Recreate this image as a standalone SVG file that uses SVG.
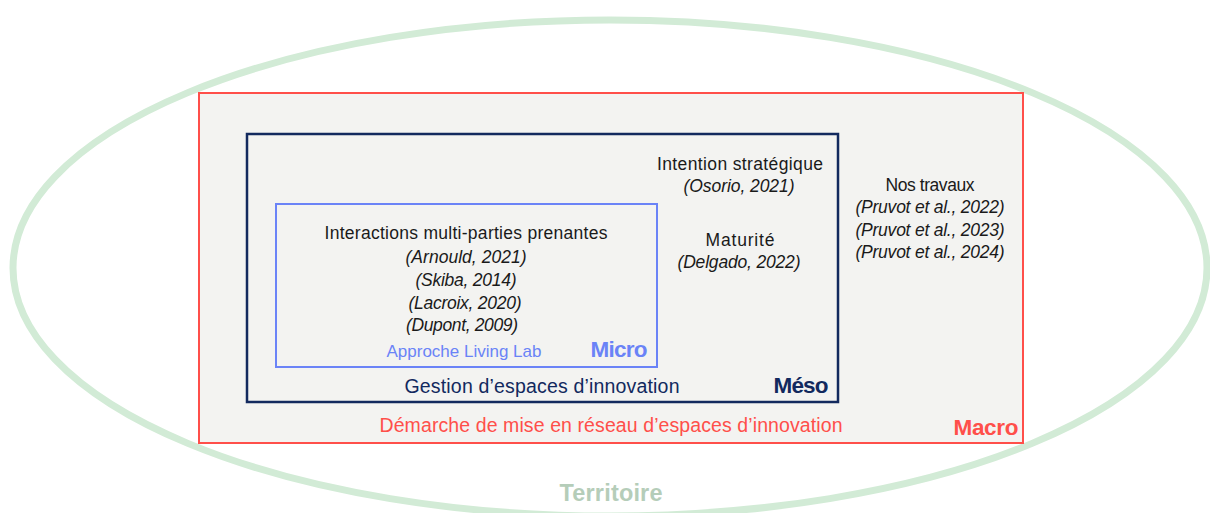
<svg xmlns="http://www.w3.org/2000/svg" width="1210" height="513" viewBox="0 0 1210 513">
<style>
text{font-family:"Liberation Sans",Arial,sans-serif;text-anchor:middle}
.t{font-size:17.5px;fill:#1a1a1a}
.i{font-style:italic}
.lbl{font-weight:bold;font-size:22.5px}
</style>
<rect width="1210" height="513" fill="#ffffff"/>
<g id="territoire">
<ellipse cx="610" cy="268" rx="597" ry="248" fill="none" stroke="#d2ebd6" stroke-width="7"/>
<text x="611" y="501" textLength="103" style="font-weight:bold;font-size:23.5px;fill:#b5cdb9">Territoire</text>
</g>
<g id="macro">
<rect x="199" y="93" width="824" height="350" fill="#f3f3f1" stroke="#ff4f4a" stroke-width="2"/>
<text x="611" y="432" textLength="463" style="font-size:19.5px;fill:#ff4f4a">Démarche de mise en réseau d’espaces d’innovation</text>
<text x="986" y="435" textLength="65" class="lbl" style="fill:#ff4f4a">Macro</text>
<text x="930" y="191" textLength="89" class="t">Nos travaux</text>
<text x="930" y="213" textLength="149" class="t i">(Pruvot et al., 2022)</text>
<text x="930" y="236" textLength="149" class="t i">(Pruvot et al., 2023)</text>
<text x="930" y="258" textLength="149" class="t i">(Pruvot et al., 2024)</text>
</g>
<g id="meso">
<rect x="247" y="134" width="591" height="268" fill="none" stroke="#12295e" stroke-width="2.5"/>
<text x="542" y="393" textLength="275" style="font-size:19.5px;fill:#12295e">Gestion d’espaces d’innovation</text>
<text x="801" y="393" textLength="55" class="lbl" style="fill:#12295e">Méso</text>
<text x="740" y="170" textLength="166" class="t">Intention stratégique</text>
<text x="739" y="192" textLength="111" class="t i">(Osorio, 2021)</text>
<text x="740" y="246" textLength="69" class="t">Maturité</text>
<text x="739" y="268" textLength="123" class="t i">(Delgado, 2022)</text>
</g>
<g id="micro">
<rect x="276" y="204" width="381" height="163" fill="none" stroke="#6a83f7" stroke-width="2"/>
<text x="466" y="239" textLength="283" class="t">Interactions multi-parties prenantes</text>
<text x="466" y="263" textLength="121" class="t i">(Arnould, 2021)</text>
<text x="466" y="286" textLength="101" class="t i">(Skiba, 2014)</text>
<text x="465" y="309" textLength="113" class="t i">(Lacroix, 2020)</text>
<text x="462" y="331" textLength="112" class="t i">(Dupont, 2009)</text>
<text x="464" y="357" textLength="155" style="font-size:17px;fill:#6a83f7">Approche Living Lab</text>
<text x="619" y="357" textLength="57" class="lbl" style="fill:#6a83f7">Micro</text>
</g>
<g id="connectors"></g>
</svg>
